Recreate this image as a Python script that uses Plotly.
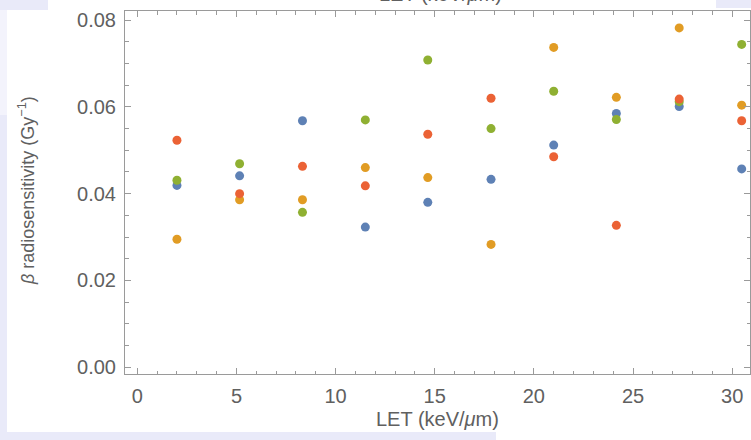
import plotly.graph_objects as go

# ---- data ----
let_values = [2.0, 5.16, 8.33, 11.5, 14.65, 17.84, 21.0, 24.16, 27.33, 30.48]
series_blue = [0.0419, 0.0441, 0.0568, 0.0323, 0.0380, 0.0433, 0.0512, 0.0585, 0.0601, 0.0457]
series_orange = [0.0295, 0.0386, 0.0386, 0.0460, 0.0437, 0.0283, 0.0737, 0.0622, 0.0782, 0.0604]
series_green = [0.0431, 0.0469, 0.0357, 0.0570, 0.0708, 0.0550, 0.0636, 0.0571, 0.0612, 0.0744]
series_red = [0.0523, 0.0400, 0.0463, 0.0418, 0.0537, 0.0620, 0.0485, 0.0327, 0.0618, 0.0568]
x_ticks = [0, 5, 10, 15, 20, 25, 30]
y_ticks = [0.00, 0.02, 0.04, 0.06, 0.08]
y_tick_labels = ["0.00", "0.02", "0.04", "0.06", "0.08"]

colors = ["#5E81B5", "#E19C24", "#8FB032", "#EB6235"]
series = [series_blue, series_orange, series_green, series_red]

W, H = 751, 440
ML, MR, MT, MB = 125, 1, 11, 66
PW, PH = W - ML - MR, H - MT - MB

def px_x(p):
    return (p - ML) / PW

def px_y(p):
    return (H - MB - p) / PH

fig = go.Figure()
for vals, c in zip(series, colors):
    fig.add_trace(go.Scatter(x=let_values, y=vals, mode="markers",
                             marker=dict(color=c, size=9, line=dict(width=0)),
                             showlegend=False, hoverinfo="x+y"))

frame_col = "#9a9a9a"
txt_col = "#606060"
font = "Liberation Sans, Arial, sans-serif"

fig.update_xaxes(range=[-0.62, 30.9], tickvals=x_ticks, ticks="inside", ticklen=6,
                 tickcolor=frame_col, showline=True, linecolor=frame_col, linewidth=1,
                 mirror="allticks", showgrid=False, zeroline=False,
                 tickfont=dict(size=20, color=txt_col, family=font),
                 minor=dict(dtick=1, tick0=0, ticks="inside", ticklen=3.5, tickcolor=frame_col, showgrid=False),
                 ticklabelstandoff=4, ticklabeloverflow="allow")
fig.update_yaxes(range=[-0.00157, 0.0821], tickvals=y_ticks, ticktext=y_tick_labels,
                 ticks="inside", ticklen=6,
                 tickcolor=frame_col, showline=True, linecolor=frame_col, linewidth=1,
                 mirror="allticks", showgrid=False, zeroline=False,
                 tickfont=dict(size=20, color=txt_col, family=font),
                 minor=dict(dtick=0.005, tick0=0, ticks="inside", ticklen=3.5, tickcolor=frame_col, showgrid=False),
                 ticklabelstandoff=4, ticklabeloverflow="allow")

lav = "#E9EAF9"
lav_light = "#F3F3FC"
def rect(x0, x1, y0, y1, col):
    return dict(type="rect", xref="paper", yref="paper", x0=px_x(x0), x1=px_x(x1),
                y0=px_y(y1), y1=px_y(y0), fillcolor=col, line=dict(width=0), layer="below")

shapes = [
    rect(0, 7, 115, 432, lav),
    rect(0, 7, 10, 115, lav_light),
    rect(0, 48, 0, 10, lav),
    rect(716, 751, 0, 8, lav),
    rect(0, 496, 432, 440, lav),
]

annotations = [
    dict(text="LET (keV/<i>μ</i>m)", xref="paper", yref="paper", x=px_x(437), y=px_y(419),
         xanchor="center", yanchor="middle", showarrow=False,
         font=dict(size=20, color=txt_col, family=font)),
    dict(text="LET (keV/<i>μ</i>m)", xref="paper", yref="paper", x=px_x(440), y=px_y(-6),
         xanchor="center", yanchor="middle", showarrow=False,
         font=dict(size=20, color=txt_col, family=font)),
    dict(text="<i>β</i> radiosensitivity (Gy<sup>−1</sup>)", xref="paper", yref="paper",
         x=px_x(26), y=px_y(190), xanchor="center", yanchor="middle", textangle=-90,
         showarrow=False, font=dict(size=18, color=txt_col, family=font)),
]

fig.update_layout(width=W, height=H, margin=dict(l=ML, r=MR, t=MT, b=MB, pad=0),
                  paper_bgcolor="white", plot_bgcolor="white",
                  shapes=shapes, annotations=annotations, showlegend=False)

fig.write_html("out.html")
